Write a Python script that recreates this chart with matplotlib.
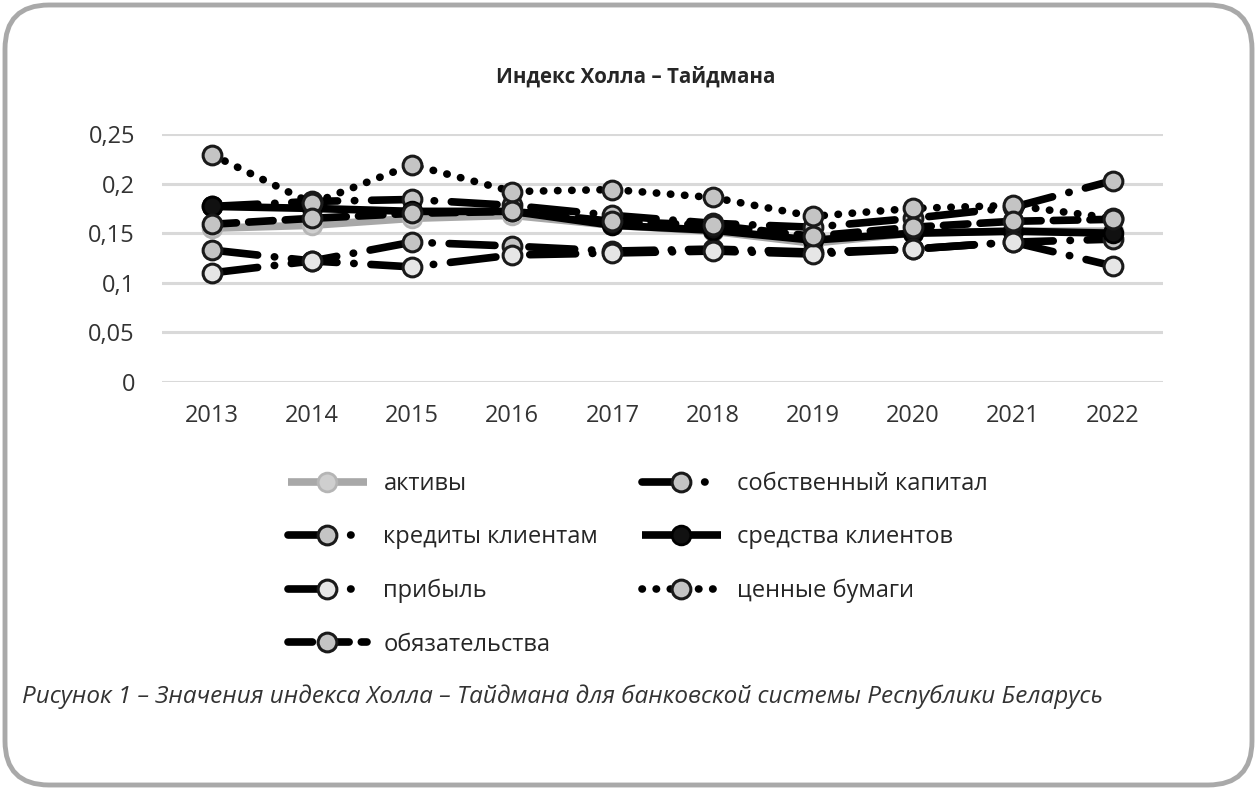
import matplotlib.pyplot as plt
from matplotlib.patches import FancyBboxPatch

# years and Hall-Tideman index values per indicator
years = ['2013', '2014', '2015', '2016', '2017', '2018', '2019', '2020', '2021', '2022']
aktivy = [0.155, 0.158, 0.165, 0.168, 0.158, 0.152, 0.140, 0.150, 0.152, 0.152]
sobstv_kapital = [0.133, 0.122, 0.141, 0.137, 0.132, 0.134, 0.131, 0.134, 0.141, 0.144]
kredity = [0.177, 0.182, 0.184, 0.178, 0.168, 0.160, 0.156, 0.165, 0.176, 0.203]
sredstva = [0.177, 0.175, 0.172, 0.172, 0.158, 0.153, 0.143, 0.150, 0.152, 0.150]
pribyl = [0.110, 0.122, 0.116, 0.128, 0.130, 0.132, 0.129, 0.134, 0.141, 0.117]
cennye = [0.229, 0.180, 0.219, 0.192, 0.194, 0.186, 0.167, 0.175, 0.178, 0.165]
obyazat = [0.159, 0.165, 0.170, 0.172, 0.162, 0.158, 0.147, 0.156, 0.162, 0.164]

yticks = [0, 0.05, 0.1, 0.15, 0.2, 0.25]
ytick_labels = ['0', '0,05', '0,1', '0,15', '0,2', '0,25']

plt.rcParams['font.family'] = ['Open Sans', 'DejaVu Sans']

W, H = 1257, 790
fig = plt.figure(figsize=(W / 100, H / 100), dpi=100)

# rounded frame around the whole figure
frame = FancyBboxPatch((5 / W, 5 / H), 1 - 10 / W, 1 - 10 / H,
                       boxstyle="round,pad=0,rounding_size=0.035",
                       transform=fig.transFigure, fc='none', ec='#a9a9a9', lw=3.5,
                       mutation_aspect=W / H, zorder=-1)
fig.patches.append(frame)

ax = fig.add_axes([162 / W, 1 - 382 / H, (1163 - 162) / W, (382 - 134) / H])
ax.set_facecolor('none')
x = list(range(len(years)))

lw = 5.5
ms = 13.5
dashdot = (0, (6, 2.2, 0.05, 2.2))
mk = dict(marker='o', markersize=ms, markeredgewidth=2.2, markeredgecolor='#1a1a1a',
          markerfacecolor='#c4c4c4')

series = [
    ('активы', aktivy, dict(color='#a8a8a8', ls='-', marker='o', markersize=ms,
                            markeredgewidth=2, markeredgecolor='#b5b5b5', markerfacecolor='#cfcfcf')),
    ('собственный капитал', sobstv_kapital, dict(color='black', ls=dashdot, **mk)),
    ('кредиты клиентам', kredity, dict(color='black', ls=dashdot, **mk)),
    ('средства клиентов', sredstva, dict(color='black', ls='-', marker='o', markersize=ms,
                                         markeredgewidth=2, markeredgecolor='black',
                                         markerfacecolor='#111111')),
    ('прибыль', pribyl, dict(color='black', ls=dashdot, marker='o', markersize=ms,
                             markeredgewidth=2.2, markeredgecolor='#1a1a1a',
                             markerfacecolor='#e6e6e6')),
    ('ценные бумаги', cennye, dict(color='black', ls=(0, (0.05, 1.8)), **mk)),
    ('обязательства', obyazat, dict(color='black', ls=(0, (3.2, 1.6)), **mk)),
]

handles = {}
for name, vals, st in series:
    line, = ax.plot(x, vals, lw=lw, dash_capstyle='round', solid_capstyle='butt',
                    label=name, zorder=3, **st)
    handles[name] = line

ax.set_xlim(-0.5, len(years) - 0.5)
ax.set_ylim(0, 0.25)
ax.set_yticks(yticks)
ax.set_yticklabels(ytick_labels)
ax.set_xticks(x)
ax.set_xticklabels(years)
ax.yaxis.grid(True, color='#d9d9d9', lw=2.2, zorder=0)
ax.set_axisbelow(True)
for s in ax.spines.values():
    s.set_visible(False)
ax.tick_params(axis='both', length=0, labelsize=17, colors='#333333')
ax.tick_params(axis='y', pad=19.5)
ax.tick_params(axis='x', pad=16)

fig.text(636 / W, 1 - 77 / H, 'Индекс Холла – Тайдмана', ha='center', va='center',
         fontsize=14.8, fontweight='bold', color='#262626')

order = ['активы', 'кредиты клиентам', 'прибыль', 'обязательства',
         'собственный капитал', 'средства клиентов', 'ценные бумаги']
leg = fig.legend([handles[n] for n in order], order, ncol=2, frameon=False,
                 loc='upper left', bbox_to_anchor=(276 / W, 1 - 460 / H),
                 fontsize=17, handlelength=3.35, handletextpad=0.7,
                 labelspacing=1.25, columnspacing=1.85, borderpad=0)
for t in leg.get_texts():
    t.set_color('#262626')

fig.text(22 / W, 1 - 697 / H,
         'Рисунок 1 – Значения индекса Холла – Тайдмана для банковской системы Республики Беларусь',
         ha='left', va='center', fontsize=17.5, style='italic', color='#333333')

fig.savefig('out.png', dpi=100)
